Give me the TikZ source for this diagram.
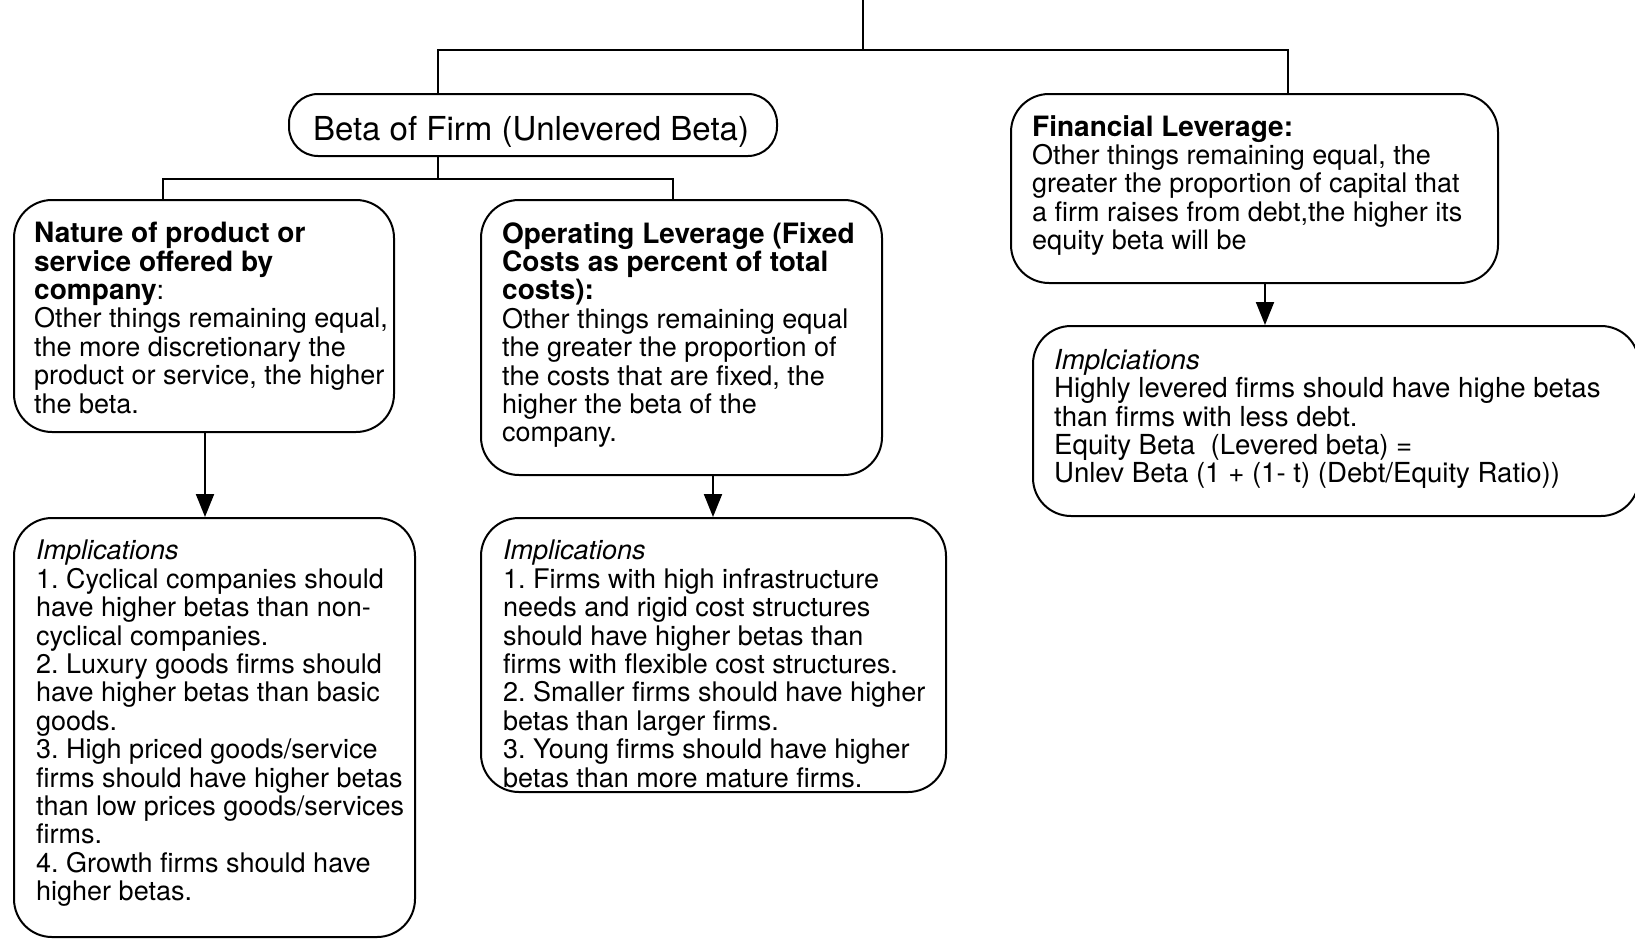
\documentclass[tikz,border=0pt]{standalone}
\usepackage{fontspec}
\setmainfont{TeX Gyre Heros}
\usetikzlibrary{arrows.meta}
\newcommand\bhead[1]{{\fontsize{28}{28.4}\selectfont\bfseries #1}}
\frenchspacing
\begin{document}
\begin{tikzpicture}[x=1pt,y=-1pt,
  box/.style={draw, line width=2pt, rounded corners=38pt, inner sep=0pt},
  txt/.style={anchor=north west, align=left, inner sep=0pt, font=\fontsize{27}{28.4}\selectfont},
  link/.style={line width=2pt},
  arr/.style={line width=2pt, -{Triangle[length=23pt,width=18pt]}}]
\useasboundingbox (0,0) rectangle (1635,938);

% boxes
\node[box, rounded corners=29pt, minimum width=488pt, minimum height=62pt] (beta) at (533,125) {};
\node[font=\fontsize{33}{36}\selectfont, anchor=base, inner sep=0pt] (betat) at (531,140) {Beta of Firm (Unlevered Beta)};
\node[box, minimum width=380pt, minimum height=232pt] (nat) at (204,316) {};
\node[box, minimum width=401pt, minimum height=275pt] (op) at (681.5,337.5) {};
\node[box, minimum width=487pt, minimum height=189pt] (fin) at (1254.5,188.5) {};
\node[box, minimum width=401pt, minimum height=419pt] (imp1) at (214.5,727.5) {};
\node[box, minimum width=465pt, minimum height=274pt] (imp2) at (713.5,655) {};
\node[box, minimum width=606pt, minimum height=190pt] (imp3) at (1336,421) {};

% texts
\node[txt] (natt) at (34,222) {\bhead{Nature of product or}\\\bhead{service offered by}\\\bhead{company}:\\Other things remaining equal,\\the more discretionary the\\product or service, the higher\\the beta.};
\node[txt] (opt) at (502,222) {\bhead{Operating Leverage (Fixed}\\\bhead{Costs as percent of total}\\\bhead{costs):}\\Other things remaining equal\\the greater the proportion of\\the costs that are fixed, the\\higher the beta of the\\company.};
\node[txt] (fint) at (1032,115) {\bhead{Financial Leverage:}\\Other things remaining equal, the\\greater the proportion of capital that\\a firm raises from debt,the higher its\\equity beta will be};
\node[txt] (imp1t) at (36,540) {\textit{Implications}\\1. Cyclical companies should\\have higher betas than non-\\cyclical companies.\\2. Luxury goods firms should\\have higher betas than basic\\goods.\\3. High priced goods/service\\firms should have higher betas\\than low prices goods/services\\firms.\\4. Growth firms should have\\higher betas.};
\node[txt] (imp2t) at (503,540) {\textit{Implications}\\1. Firms with high infrastructure\\needs and rigid cost structures\\should have higher betas than\\firms with flexible cost structures.\\2. Smaller firms should have higher\\betas than larger firms.\\3. Young firms should have higher\\betas than more mature firms.};
\node[txt, font=\fontsize{27.6}{28.4}\selectfont] (imp3t) at (1054,349) {\textit{Implciations}\\Highly levered firms should have highe betas\\than firms with less debt.\\Equity Beta\ \ (Levered beta) =\\Unlev Beta (1 + (1- t) (Debt/Equity Ratio))};

% connectors
\coordinate (top) at (863,0);
\coordinate (j) at (863,50);
\coordinate (jl) at (438,50);
\coordinate (jr) at (1288,50);
\coordinate (bh) at (438,179);
\coordinate (bl) at (163,179);
\coordinate (br) at (673,179);
\draw[link] (top) -- (j);
\draw[link] (jl |- beta.north) -- (jl) -- (jr) -- (jr |- fin.north);
\draw[link] (jl |- beta.south) -- (bh);
\draw[link] (bl |- nat.north) -- (bl) -- (br) -- (br |- op.north);
\draw[arr] (nat.south -| 205,0) -- (imp1.north -| 205,0);
\draw[arr] (op.south -| 713,0) -- (imp2.north -| 713,0);
\draw[arr] (fin.south -| 1265,0) -- (imp3.north -| 1265,0);
\end{tikzpicture}
\end{document}
